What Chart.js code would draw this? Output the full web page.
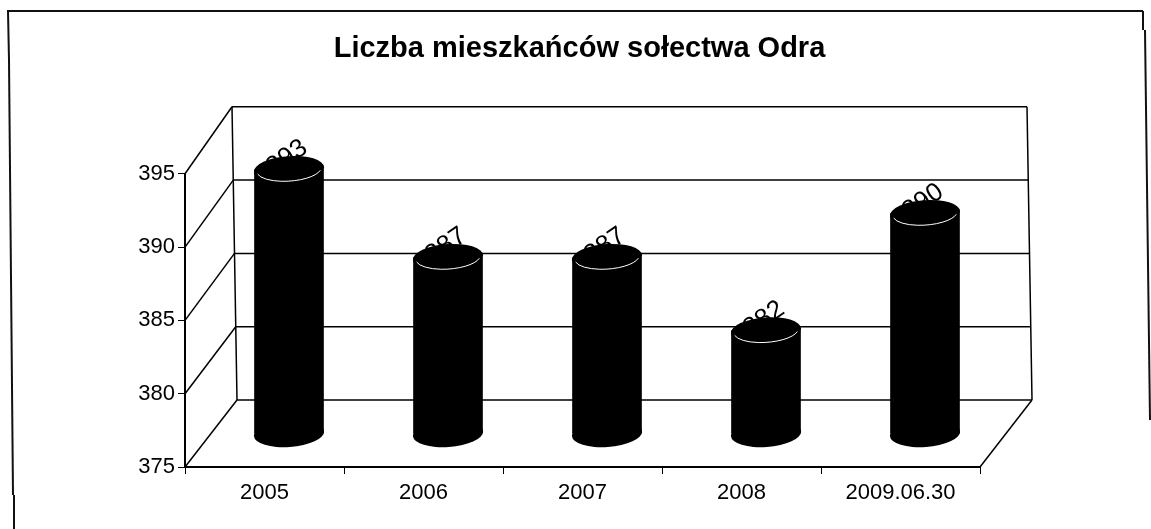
<!DOCTYPE html>
<html lang="pl">
<head>
    <meta charset="UTF-8">
    <title>Liczba mieszkańców sołectwa Odra</title>
    <script src="https://cdn.jsdelivr.net/npm/chart.js@4"></script>
    <style>
        html, body { margin: 0; padding: 0; background: #fff; }
        canvas { display: block; }
    </style>
</head>
<body>
    <canvas id="chart" width="1151" height="529"></canvas>

    <script>
        const years = ['2005', '2006', '2007', '2008', '2009.06.30'];
        const residents = [393, 387, 387, 382, 390];
        const axisMin = 375;
        const axisMax = 395;
        const axisStep = 5;

        // fake 3D: how far the back wall sits from the front plane
        const depthX = 52;
        const depthY = -67;
        const wallLean = 5;
        const barWidth = 69;
        const capRx = 35.2;
        const capRy = 13.5;
        const capTilt = -0.07;

        function line(ctx, x1, y1, x2, y2) {
            ctx.beginPath();
            ctx.moveTo(x1, y1);
            ctx.lineTo(x2, y2);
            ctx.stroke();
        }

        const pageFrame = {
            id: 'pageFrame',
            afterLayout(chart) {
                // title in the original is a little left of the plot centre
                chart.titleBlock.left -= 3;
                chart.titleBlock.right -= 3;
            },
            beforeDraw(chart) {
                const ctx = chart.ctx;
                ctx.save();
                ctx.strokeStyle = '#111';
                ctx.lineWidth = 2;
                line(ctx, 7, 11, 1143, 11);
                line(ctx, 8, 11, 9, 60);
                line(ctx, 9, 60, 13, 495);
                line(ctx, 14, 495, 14, 529);
                line(ctx, 1143, 11, 1143, 30);
                line(ctx, 1145, 30, 1150, 420);
                ctx.restore();
            }
        };

        const box3d = {
            id: 'box3d',
            beforeDatasetsDraw(chart) {
                const ctx = chart.ctx;
                const xs = chart.scales.x;
                const ys = chart.scales.y;
                const bottom = ys.getPixelForValue(axisMin);
                const top = ys.getPixelForValue(axisMax);
                const lean = y => wallLean * (bottom - y) / (bottom - top);

                ctx.save();
                ctx.strokeStyle = '#000';
                ctx.lineWidth = 1.5;
                for (let v = axisMin; v <= axisMax; v += axisStep) {
                    const y = ys.getPixelForValue(v);
                    const backY = y + depthY;
                    const backL = xs.left + depthX - lean(y);
                    const backR = xs.right + depthX - lean(y);
                    line(ctx, xs.left, y, backL, backY);
                    line(ctx, backL, backY, backR, backY);
                }
                line(ctx, xs.left + depthX, bottom + depthY, xs.left + depthX - wallLean, top + depthY);
                line(ctx, xs.right + depthX, bottom + depthY, xs.right + depthX - wallLean, top + depthY);
                line(ctx, xs.right, bottom, xs.right + depthX, bottom + depthY);
                ctx.restore();

                // bars stand halfway into the box
                ctx.save();
                ctx.translate(depthX / 2 - 1.5, depthY / 2);

                // value labels sit behind the cylinder tops, as in the original
                ctx.fillStyle = '#000';
                ctx.font = '26px "Liberation Sans", Arial, sans-serif';
                ctx.textAlign = 'center';
                ctx.textBaseline = 'middle';
                chart.getDatasetMeta(0).data.forEach((bar, i) => {
                    ctx.save();
                    ctx.translate(bar.x - 2, bar.y - 12);
                    ctx.rotate(-0.6);
                    ctx.fillText(String(residents[i]), 0, 0);
                    ctx.restore();
                });
            },
            afterDatasetsDraw(chart) {
                const ctx = chart.ctx;
                const base = chart.scales.y.getPixelForValue(axisMin);
                chart.getDatasetMeta(0).data.forEach(bar => {
                    ctx.fillStyle = '#000';
                    ctx.beginPath();
                    ctx.ellipse(bar.x, base, capRx, capRy, capTilt, 0, Math.PI * 2);
                    ctx.fill();
                    ctx.beginPath();
                    ctx.ellipse(bar.x, bar.y, capRx, capRy, capTilt, 0, Math.PI * 2);
                    ctx.fill();
                    ctx.strokeStyle = '#fff';
                    ctx.lineWidth = 1;
                    ctx.beginPath();
                    ctx.ellipse(bar.x, bar.y, capRx - 3, capRy - 2, capTilt, 0.25, Math.PI - 0.2);
                    ctx.stroke();
                });
                ctx.restore();
            }
        };

        new Chart(document.getElementById('chart'), {
            type: 'bar',
            data: {
                labels: years,
                datasets: [{
                    data: residents,
                    base: axisMin,
                    backgroundColor: '#000',
                    borderWidth: 0,
                    barThickness: barWidth,
                    clip: false
                }]
            },
            options: {
                responsive: false,
                animation: false,
                layout: { padding: { left: 125, right: 171, top: 0, bottom: 0 } },
                plugins: {
                    legend: { display: false },
                    tooltip: { enabled: false },
                    title: {
                        display: true,
                        fullSize: false,
                        text: 'Liczba mieszkańców sołectwa Odra',
                        color: '#000',
                        font: { family: '"Liberation Sans", Arial, sans-serif', size: 29, weight: 'bold' },
                        padding: { top: 32, bottom: 107 }
                    }
                },
                scales: {
                    x: {
                        afterFit(scale) { scale.height = 62; },
                        grid: { drawOnChartArea: false, color: '#000', tickLength: 7 },
                        border: { color: '#000', width: 2 },
                        ticks: {
                            color: '#000',
                            padding: 6,
                            maxRotation: 0,
                            font: { family: '"Liberation Sans", Arial, sans-serif', size: 22 }
                        }
                    },
                    y: {
                        min: axisMin,
                        max: axisMax,
                        afterFit(scale) { scale.width = 60; },
                        grid: { drawOnChartArea: false, color: '#000', tickLength: 7 },
                        border: { color: '#000', width: 2 },
                        ticks: {
                            stepSize: axisStep,
                            color: '#000',
                            padding: 3,
                            font: { family: '"Liberation Sans", Arial, sans-serif', size: 22 }
                        }
                    }
                }
            },
            plugins: [pageFrame, box3d]
        });
    </script>
</body>
</html>
